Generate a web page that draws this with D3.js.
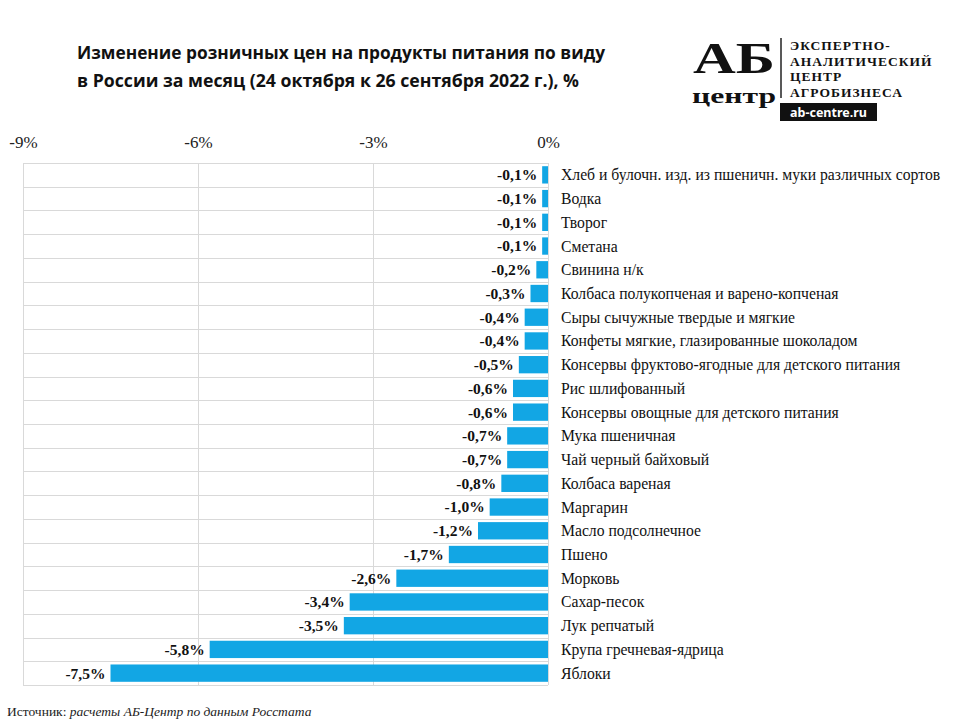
<!DOCTYPE html>
<html><head><meta charset="utf-8">
<script src="https://cdn.jsdelivr.net/npm/d3@7"></script>
<style>body{margin:0;background:#fff}svg{display:block}</style>
</head><body>
<svg id="c" width="960" height="720"></svg>
<script>
const categories = [
  "Хлеб и булочн. изд. из пшеничн. муки различных сортов",
  "Водка","Творог","Сметана","Свинина н/к",
  "Колбаса полукопченая и варено-копченая",
  "Сыры сычужные твердые и мягкие",
  "Конфеты мягкие, глазированные шоколадом",
  "Консервы фруктово-ягодные для детского питания",
  "Рис шлифованный",
  "Консервы овощные для детского питания",
  "Мука пшеничная","Чай черный байховый","Колбаса вареная",
  "Маргарин","Масло подсолнечное","Пшено","Морковь","Сахар-песок",
  "Лук репчатый","Крупа гречневая-ядрица","Яблоки"
];
const values = [-0.1,-0.1,-0.1,-0.1,-0.2,-0.3,-0.4,-0.4,-0.5,-0.6,-0.6,-0.7,-0.7,-0.8,-1.0,-1.2,-1.7,-2.6,-3.4,-3.5,-5.8,-7.5];
const tickValues = [-9,-6,-3,0];
const titleLines = ["Изменение розничных  цен на продукты  питания  по виду","в России за  месяц (24 октября  к 26 сентября  2022 г.), %"];

(function(){
const svg = d3.select("#c");
const pl = 23, pr = 548, pt = 163, pb = 685;
const x = d3.scaleLinear().domain([-9,0]).range([pl,pr]);
const y = d3.scaleBand().domain(categories).range([pt,pb]).paddingInner(0.27).paddingOuter(0.135);
const rowY = d3.scaleBand().domain(categories).range([pt,pb]);
const fmt = v => d3.format(".1f")(v).replace(".",",").replace("−","-") + "%";
const serif = "'Liberation Serif', 'Times New Roman', serif";

// Title
svg.append("g").selectAll("text").data(titleLines).join("text")
  .attr("x",77).attr("y",(d,i)=>59+i*28)
  .attr("font-family","'Open Sans', sans-serif").attr("font-weight","bold")
  .attr("font-size",18).attr("fill","#111")
  .attr("textLength",(d,i)=>i?502:528).attr("lengthAdjust","spacingAndGlyphs")
  .text(d=>d);

// Logo
const logo = svg.append("g");
logo.append("text").attr("x",693).attr("y",73).attr("font-family",serif).attr("font-weight","bold").attr("fill","#111")
  .attr("font-size",44).attr("textLength",82).attr("lengthAdjust","spacingAndGlyphs").text("АБ");
logo.append("text").attr("x",692).attr("y",102.5).attr("font-family",serif).attr("font-weight","bold").attr("fill","#111")
  .attr("font-size",22).attr("textLength",84).attr("lengthAdjust","spacingAndGlyphs").text("центр");
logo.append("line").attr("x1",781).attr("x2",781).attr("y1",38).attr("y2",98).attr("stroke","#222").attr("stroke-width",1.5);
["ЭКСПЕРТНО-","АНАЛИТИЧЕСКИЙ","ЦЕНТР","АГРОБИЗНЕСА"].forEach((t,i)=>{
  logo.append("text").attr("x",790).attr("y",50+i*15.5).attr("font-family",serif)
   .attr("font-weight","bold").attr("font-size",13.5).attr("letter-spacing",1).attr("fill","#111").text(t);
});
logo.append("rect").attr("x",780).attr("y",103).attr("width",97).attr("height",18).attr("fill","#111");
logo.append("text").attr("x",828.5).attr("y",117).attr("text-anchor","middle").attr("fill","#fff")
  .attr("font-family","'Noto Sans', sans-serif").attr("font-weight","bold").attr("font-size",12.5).text("ab-centre.ru");

// Axis on top (tick labels only)
const axis = d3.axisTop(x).tickValues(tickValues).tickSize(0).tickPadding(0).tickFormat(d=>d+"%");
const ag = svg.append("g").attr("transform",`translate(0,148)`).call(axis);
ag.attr("font-family",serif).attr("font-size",17);
ag.select(".domain").remove();
ag.selectAll("text").attr("font-family",serif).attr("font-size",17).attr("fill","#222");

// Grid
const grid = svg.append("g").attr("stroke","#d9d9d9").attr("stroke-width",1);
grid.selectAll("line.v").data(tickValues).join("line").attr("class","v")
  .attr("x1",d=>Math.round(x(d))+0.5).attr("x2",d=>Math.round(x(d))+0.5).attr("y1",pt).attr("y2",pb);
const hs = categories.map(c=>rowY(c)).concat([pb]);
grid.selectAll("line.h").data(hs).join("line").attr("class","h")
  .attr("x1",pl).attr("x2",pr).attr("y1",d=>Math.round(d)+0.5).attr("y2",d=>Math.round(d)+0.5);

// Bars
svg.append("g").selectAll("rect").data(values).join("rect")
  .attr("x",d=>x(d)).attr("width",d=>x(0)-x(d))
  .attr("y",(d,i)=>y(categories[i])).attr("height",y.bandwidth())
  .attr("fill","#12a6e4");

// Value labels
svg.append("g").selectAll("text").data(values).join("text")
  .attr("x",d=>x(d)-5).attr("y",(d,i)=>y(categories[i])+y.bandwidth()/2)
  .attr("dy","0.35em").attr("text-anchor","end")
  .attr("font-family",serif).attr("font-weight","bold").attr("font-size",15.5).attr("fill","#111")
  .text(fmt);

// Category labels
svg.append("g").selectAll("text").data(categories).join("text")
  .attr("x",561).attr("y",d=>y(d)+y.bandwidth()/2).attr("dy","0.35em")
  .attr("font-family",serif).attr("font-size",15.7).attr("fill","#111")
  .text(d=>d);

// Source
const src = svg.append("text").attr("x",7).attr("y",716).attr("font-family",serif).attr("font-size",13.5).attr("fill","#222");
src.append("tspan").text("Источник: ");
src.append("tspan").attr("font-style","italic").text("расчеты АБ-Центр  по данным  Росстата");
})();
</script>
</body></html>
